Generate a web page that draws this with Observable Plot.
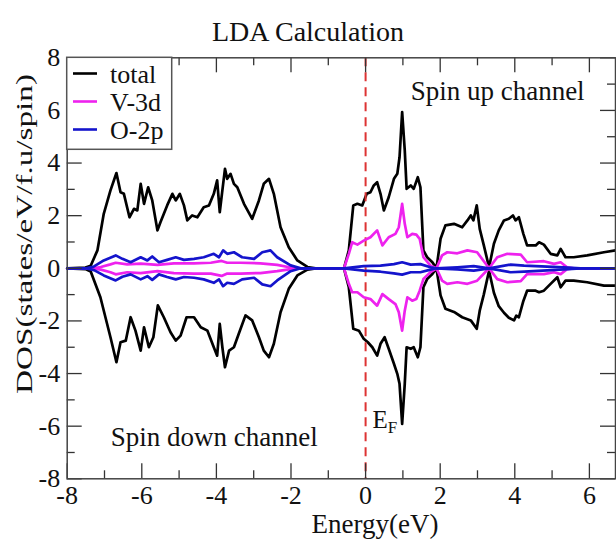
<!DOCTYPE html>
<html><head><meta charset="utf-8">
<script src="https://cdn.jsdelivr.net/npm/d3@7"></script>
<script src="https://cdn.jsdelivr.net/npm/@observablehq/plot@0.6"></script>
<style>
html,body{margin:0;padding:0;background:#fff;}
#chart{width:616px;height:540px;}
</style></head><body><div id="chart"></div>
<script>
// ---- data: [energy (eV), DOS] ----
const totalUp = [[-8,0],[-7.51,0.03],[-7.37,0.1],[-7.19,0.68],[-7.02,2.07],[-6.84,2.96],[-6.68,3.62],[-6.57,2.89],[-6.48,2.83],[-6.33,1.94],[-6.21,2.26],[-6.12,2.20],[-6.03,3.21],[-5.94,2.45],[-5.83,3.08],[-5.72,2.58],[-5.58,1.44],[-5.50,1.75],[-5.32,2.39],[-5.18,2.83],[-5.09,2.58],[-4.98,2.83],[-4.87,2.39],[-4.78,1.82],[-4.65,2.01],[-4.51,1.94],[-4.34,2.32],[-4.20,2.39],[-4.07,2.83],[-3.98,3.34],[-3.91,2.13],[-3.84,2.96],[-3.77,3.78],[-3.71,3.40],[-3.62,3.59],[-3.53,3.21],[-3.44,3.08],[-3.26,2.45],[-3.04,1.88],[-2.86,2.58],[-2.73,3.21],[-2.59,3.40],[-2.46,2.83],[-2.28,1.56],[-2.06,0.80],[-1.83,0.30],[-1.56,0.05],[-1.34,0],[-0.58,0],[-0.45,0.68],[-0.33,2.39],[-0.22,2.45],[-0.09,2.39],[0.03,2.83],[0.13,2.89],[0.22,3.15],[0.31,3.27],[0.40,2.83],[0.49,2.20],[0.62,2.70],[0.76,3.40],[0.85,3.59],[0.91,4.22],[0.98,5.94],[1.05,4.48],[1.10,3.02],[1.21,3.15],[1.29,3.02],[1.40,3.46],[1.47,3.08],[1.55,0.68],[1.65,0.42],[1.79,0.23],[1.90,0],[2.01,1.12],[2.14,1.63],[2.37,1.69],[2.59,1.56],[2.73,1.82],[2.82,2.01],[2.89,1.82],[2.98,2.39],[3.06,1.50],[3.17,0.87],[3.31,0.04],[3.44,0.93],[3.57,1.44],[3.71,1.82],[3.84,1.88],[3.95,2.01],[4.02,1.82],[4.11,1.94],[4.23,1.31],[4.33,0.87],[4.56,0.87],[4.65,0.99],[4.78,0.90],[4.96,0.55],[5.14,0.49],[5.23,0.74],[5.36,0.42],[5.58,0.42],[5.94,0.49],[6.39,0.61],[6.70,0.68]];
const totalDown = [[-8,0],[-7.51,-0.03],[-7.37,-0.12],[-7.11,-1.10],[-6.84,-2.62],[-6.68,-3.57],[-6.57,-2.81],[-6.43,-2.75],[-6.30,-1.86],[-6.17,-2.37],[-6.03,-3.13],[-5.94,-2.24],[-5.81,-3.0],[-5.69,-2.62],[-5.57,-1.41],[-5.41,-1.86],[-5.23,-2.43],[-5.09,-2.75],[-4.96,-2.56],[-4.80,-1.86],[-4.60,-1.86],[-4.42,-2.24],[-4.24,-2.37],[-4.07,-3.0],[-3.98,-3.32],[-3.91,-2.11],[-3.84,-3.0],[-3.77,-3.76],[-3.66,-3.13],[-3.53,-3.0],[-3.40,-2.49],[-3.22,-1.79],[-3.04,-1.98],[-2.86,-2.62],[-2.73,-3.13],[-2.59,-3.38],[-2.46,-2.87],[-2.28,-1.67],[-2.06,-0.78],[-1.83,-0.27],[-1.56,-0.05],[-1.34,0],[-0.58,0],[-0.45,-0.72],[-0.33,-2.30],[-0.18,-2.37],[-0.05,-2.68],[0.06,-2.81],[0.18,-3.0],[0.31,-3.32],[0.40,-2.87],[0.51,-2.62],[0.62,-3.06],[0.76,-3.63],[0.85,-4.01],[0.91,-4.39],[0.98,-5.91],[1.05,-4.39],[1.10,-3.0],[1.21,-3.06],[1.29,-3.0],[1.40,-3.38],[1.47,-3.0],[1.55,-0.72],[1.65,-0.41],[1.79,-0.22],[1.90,0],[2.01,-1.03],[2.14,-1.54],[2.37,-1.66],[2.59,-1.86],[2.82,-1.98],[2.98,-2.30],[3.06,-1.61],[3.17,-0.99],[3.31,-0.09],[3.44,-0.93],[3.57,-1.44],[3.71,-1.69],[3.84,-1.88],[3.98,-1.98],[4.04,-1.80],[4.11,-1.86],[4.23,-1.24],[4.33,-0.85],[4.56,-0.85],[4.65,-0.91],[4.78,-0.85],[4.96,-0.59],[5.14,-0.34],[5.23,-0.72],[5.36,-0.47],[5.58,-0.47],[5.94,-0.53],[6.39,-0.66],[6.70,-0.66]];
const v3dUp = [[-8,0],[-7.3,0],[-7.1,0.05],[-6.84,0.15],[-6.70,0.21],[-6.39,0.15],[-6.03,0.18],[-5.58,0.13],[-5.14,0.19],[-4.60,0.19],[-4.15,0.21],[-3.86,0.28],[-3.71,0.21],[-3.35,0.21],[-2.82,0.19],[-2.37,0.13],[-2.01,0.03],[-1.74,0],[-0.58,0],[-0.45,0.55],[-0.36,0.99],[-0.22,0.90],[-0.05,1.05],[0.13,1.18],[0.31,1.44],[0.45,0.87],[0.62,1.18],[0.80,1.31],[0.89,1.56],[0.98,2.45],[1.05,1.69],[1.12,1.18],[1.25,1.31],[1.36,1.28],[1.45,1.12],[1.55,0.42],[1.74,0.10],[1.90,0],[2.05,0.49],[2.19,0.61],[2.46,0.57],[2.73,0.68],[2.99,0.61],[3.31,0],[3.53,0.42],[3.80,0.55],[4.16,0.52],[4.33,0.23],[4.78,0.27],[5.05,0.17],[5.23,0.23],[5.40,0.04],[5.58,0],[6.70,0]];
const v3dDown = [[-8,0],[-7.3,0],[-7.1,-0.05],[-6.84,-0.15],[-6.70,-0.23],[-6.39,-0.15],[-6.03,-0.18],[-5.58,-0.11],[-5.14,-0.18],[-4.60,-0.20],[-4.15,-0.20],[-3.86,-0.29],[-3.71,-0.20],[-3.35,-0.20],[-2.82,-0.18],[-2.37,-0.11],[-2.01,-0.03],[-1.74,0],[-0.58,0],[-0.45,-0.59],[-0.36,-0.91],[-0.22,-0.91],[-0.05,-1.10],[0.13,-1.17],[0.31,-1.42],[0.45,-0.98],[0.62,-1.17],[0.80,-1.36],[0.89,-1.67],[0.98,-2.37],[1.05,-1.61],[1.12,-1.10],[1.25,-1.23],[1.36,-1.17],[1.45,-0.85],[1.55,-0.41],[1.74,-0.15],[1.90,0],[2.05,-0.47],[2.19,-0.59],[2.46,-0.53],[2.73,-0.59],[2.99,-0.47],[3.31,0],[3.53,-0.41],[3.80,-0.53],[4.16,-0.49],[4.33,-0.22],[4.78,-0.22],[5.05,-0.15],[5.23,-0.22],[5.40,-0.03],[5.58,0],[6.70,0]];
const o2pUp = [[-8,0],[-7.5,0],[-7.28,0.07],[-7.02,0.30],[-6.70,0.49],[-6.52,0.36],[-6.30,0.23],[-6.03,0.42],[-5.85,0.30],[-5.72,0.45],[-5.54,0.23],[-5.32,0.32],[-5.09,0.42],[-4.87,0.32],[-4.60,0.36],[-4.34,0.42],[-4.07,0.55],[-3.93,0.42],[-3.82,0.68],[-3.71,0.55],[-3.53,0.61],[-3.31,0.42],[-2.99,0.36],[-2.77,0.61],[-2.55,0.68],[-2.37,0.42],[-2.01,0.11],[-1.74,0],[-0.58,0],[-0.05,0.08],[0.40,0.10],[0.76,0.16],[0.98,0.23],[1.21,0.14],[1.47,0.16],[1.74,0.04],[1.90,0],[2.46,0.04],[2.90,0.08],[3.31,0],[3.89,0.14],[4.25,0.10],[4.87,0.06],[5.31,0.04],[5.76,0],[6.70,0]];
const o2pDown = [[-8,0],[-7.5,0],[-7.28,-0.07],[-7.02,-0.27],[-6.70,-0.46],[-6.52,-0.32],[-6.30,-0.23],[-6.03,-0.42],[-5.85,-0.30],[-5.72,-0.44],[-5.54,-0.23],[-5.32,-0.33],[-5.09,-0.42],[-4.87,-0.33],[-4.60,-0.36],[-4.34,-0.42],[-4.07,-0.55],[-3.93,-0.42],[-3.82,-0.68],[-3.71,-0.55],[-3.53,-0.59],[-3.31,-0.42],[-2.99,-0.36],[-2.77,-0.61],[-2.55,-0.68],[-2.37,-0.46],[-2.01,-0.11],[-1.74,0],[-0.58,0],[-0.05,-0.09],[0.40,-0.13],[0.76,-0.19],[0.98,-0.24],[1.21,-0.15],[1.47,-0.15],[1.74,-0.05],[1.90,0],[2.46,-0.04],[2.90,-0.09],[3.31,0],[3.89,-0.15],[4.25,-0.13],[4.87,-0.08],[5.31,-0.04],[5.76,0],[6.70,0]];

const fermiLevel = [0];
const xMajorTicks = [-8,-6,-4,-2,0,2,4,6];
const xMinorTicks = [-7,-5,-3,-1,1,3,5];
const yMajorTicks = [-8,-6,-4,-2,0,2,4,6,8];
const yMinorTicks = [-7,-5,-3,-1,1,3,5,7];
const legendLabels = ["total","V-3d","O-2p"];
const legendColors = ["#000000","#ee22ee","#1414cc"];
const annotations = [
  {text:"Spin up channel", x:3.54, y:6.38},
  {text:"Spin down channel", x:-4.06, y:-6.74}
];
const fermiLabel = {main:"E", sub:"F", x:0.2, y:-6.10};
const titleText = "LDA Calculation";
const xLabel = "Energy(eV)";
const yLabel = "DOS(states/eV/f.u/spin)";

// ---- layout ----
const W = 616, H = 540;
const mL = 66.7, mR = 1, mT = 57.3, mB = 61.7;
const frameW = W - mL - mR, frameH = H - mT - mB;
const majorLen = 15, minorLen = 8;
const font = "'Liberation Serif','Times New Roman',serif";
const lw = 2.7;
const px = d => d[0], py = d => d[1];

const plot = Plot.plot({
  width: W, height: H,
  marginLeft: mL, marginRight: mR, marginTop: mT, marginBottom: mB,
  x: {domain: [-8, 6.7]},
  y: {domain: [-8, 8]},
  style: {fontFamily: font, fontSize: "26px", color: "#111", background: "white"},
  marks: [
    Plot.line(totalUp, {x: px, y: py, stroke: legendColors[0], strokeWidth: lw}),
    Plot.line(totalDown, {x: px, y: py, stroke: legendColors[0], strokeWidth: lw}),
    Plot.ruleX(fermiLevel, {stroke: "#dd3333", strokeWidth: 2, strokeDasharray: "9,6"}),
    Plot.line(v3dUp, {x: px, y: py, stroke: legendColors[1], strokeWidth: lw}),
    Plot.line(v3dDown, {x: px, y: py, stroke: legendColors[1], strokeWidth: lw}),
    Plot.line(o2pUp, {x: px, y: py, stroke: legendColors[2], strokeWidth: lw}),
    Plot.line(o2pDown, {x: px, y: py, stroke: legendColors[2], strokeWidth: lw}),
    // inward ticks on all four sides
    Plot.ruleX(xMajorTicks, {insetTop: frameH - majorLen, stroke: "#333", strokeWidth: 1.3}),
    Plot.ruleX(xMinorTicks, {insetTop: frameH - minorLen, stroke: "#333", strokeWidth: 1.3}),
    Plot.ruleX(xMajorTicks, {insetBottom: frameH - majorLen, stroke: "#333", strokeWidth: 1.3}),
    Plot.ruleX(xMinorTicks, {insetBottom: frameH - minorLen, stroke: "#333", strokeWidth: 1.3}),
    Plot.ruleY(yMajorTicks, {insetRight: frameW - majorLen, stroke: "#333", strokeWidth: 1.3}),
    Plot.ruleY(yMinorTicks, {insetRight: frameW - minorLen, stroke: "#333", strokeWidth: 1.3}),
    Plot.ruleY(yMajorTicks, {insetLeft: frameW - majorLen, stroke: "#333", strokeWidth: 1.3}),
    Plot.ruleY(yMinorTicks, {insetLeft: frameW - minorLen, stroke: "#333", strokeWidth: 1.3}),
    Plot.frame({stroke: "#444", strokeWidth: 1.5}),
    Plot.axisX({ticks: xMajorTicks, tickSize: 0, tickPadding: 7, tickFormat: d => String(d), label: null, fontSize: 26}),
    Plot.axisY({ticks: yMajorTicks, tickSize: 0, tickPadding: 7, tickFormat: d => String(d), label: null, fontSize: 26}),
    Plot.text(annotations, {x: "x", y: "y", text: "text", lineAnchor: "bottom", textAnchor: "middle", fontSize: 27, fill: "#111"})
  ]
});

const svg = d3.select(plot);
const sx = plot.scale("x"), sy = plot.scale("y");

// Fermi level label with subscript, positioned through the plot's scales
const ef = svg.append("text").attr("x", sx.apply(fermiLabel.x)).attr("y", sy.apply(fermiLabel.y))
  .attr("text-anchor", "start").attr("font-size", 25).attr("fill", "#111");
ef.append("tspan").text(fermiLabel.main);
ef.append("tspan").attr("font-size", 17).attr("dy", 5).text(fermiLabel.sub);

svg.append("text").attr("x", 308).attr("y", 41).attr("text-anchor", "middle")
  .attr("font-size", 28).attr("fill", "#111").text(titleText);
svg.append("text").attr("x", 375).attr("y", 533).attr("text-anchor", "middle")
  .attr("font-size", 27).attr("fill", "#111").text(xLabel);
svg.append("text").attr("transform", "translate(32,234) rotate(-90)").attr("text-anchor", "middle")
  .attr("font-size", 23).attr("textLength", 320).attr("lengthAdjust", "spacingAndGlyphs")
  .attr("fill", "#111").text(yLabel);

const lg = svg.append("g");
lg.append("rect").attr("x", mL).attr("y", mT).attr("width", 105).attr("height", 92)
  .attr("fill", "white").attr("stroke", "#555").attr("stroke-width", 1.5);
legendLabels.forEach((lab, i) => {
  const yy = 73.5 + i * 28;
  lg.append("line").attr("x1", 73).attr("x2", 97).attr("y1", yy).attr("y2", yy)
    .attr("stroke", legendColors[i]).attr("stroke-width", 2.6);
  lg.append("text").attr("x", 110).attr("y", yy + 9).attr("text-anchor", "start")
    .attr("font-size", 26).attr("fill", "#111").text(lab);
});

document.getElementById("chart").appendChild(plot);
</script>
</body></html>
